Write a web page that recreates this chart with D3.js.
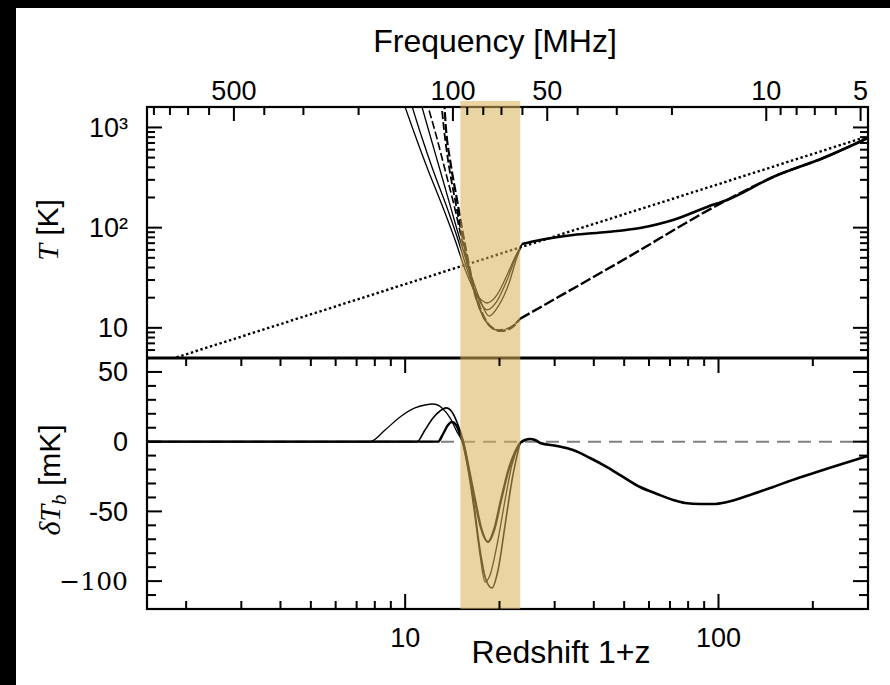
<!DOCTYPE html>
<html><head><meta charset="utf-8">
<script src="https://cdn.jsdelivr.net/npm/d3@7"></script>
<style>html,body{margin:0;padding:0;background:#000;} svg{display:block}</style>
</head><body>
<svg id="c" width="890" height="685"></svg>
<script>
// ---------------- data ----------------
const bandZ = [15.0, 23.3];                 // shaded redshift band (1+z)
const tcmbZ = [1.8, 10, 100, 300];          // CMB temperature (dotted)
const tcmbT = [4.9, 27.3, 272, 817];

// spin temperature, three models (solid)
const ts1Z = [9.80, 10.75, 11.83, 13.11, 14.43, 15.64, 16.96, 18.25, 19.64, 21.15, 22.43, 23.60];
const ts1T = [1900, 840, 376, 168, 75.3, 36.1, 21.3, 17.7, 21.3, 33.7, 50.9, 68.6];
const ts2Z = [10.37, 11.24, 12.27, 13.51, 14.75, 15.87, 17.09, 18.25, 19.64, 21.15, 22.43, 23.60];
const ts2T = [1880, 840, 376, 168, 75.3, 36.1, 19.8, 15.1, 18.5, 30.0, 48.6, 68.6];
const ts3Z = [11.15, 12.00, 12.92, 13.91, 14.97, 16.11, 17.34, 18.52, 19.93, 21.46, 22.59, 23.60];
const ts3T = [1880, 840, 376, 168, 75.3, 36.1, 19.0, 13.1, 16.9, 28.0, 47.5, 68.6];
const tsHighZ = [23.60, 26.95, 34.34, 44.09, 56.19, 71.61, 91.95, 106.5, 149.3, 215.7, 300];
const tsHighT = [68.6, 75.3, 84.4, 90.5, 99.2, 119, 161, 189, 320, 495, 785];

// gas kinetic temperature, three models (dashed)
const tk1Z = [11.66, 12.55, 13.41, 14.32, 15.30, 16.35, 17.34, 18.39, 19.79, 21.46, 23.26];
const tk1T = [1880, 840, 376, 168, 67.1, 26.8, 15.1, 10.9, 9.52, 9.96, 12.3];
const tk2Z = [13.02, 13.31, 13.70, 14.43, 15.41, 16.47, 17.47, 18.66, 20.08, 21.62, 23.26];
const tk2T = [1880, 943, 473, 189, 67.1, 25.6, 14.4, 10.4, 9.30, 9.96, 12.3];
const tk3Z = [13.31, 13.51, 13.91, 14.64, 15.53, 16.59, 17.60, 18.80, 20.23, 21.78, 23.26];
const tk3T = [1880, 943, 473, 189, 67.1, 25.0, 14.1, 10.2, 9.30, 9.96, 12.3];
const tkHighZ = [23.26, 49.6, 106.5, 149.3, 215.7, 300];
const tkHighT = [12.3, 47.5, 189, 320, 495, 785];

// brightness temperature, three models
const dz1 = [1.5, 7.72, 8.63, 9.63, 10.75, 11.57, 12.27, 13.11, 13.91, 14.64, 15.19, 15.87, 16.59, 17.34, 17.99, 18.66, 19.64, 20.84, 21.93, 23.26];
const dt1 = [0, 0, 8.4, 17.7, 24.2, 26.3, 27.0, 24.2, 17.0, 7.0, 0, -20.3, -49.0, -81.3, -100.6, -95.6, -74.1, -41.8, -16.4, -0.9];
const dz2 = [1.5, 10.91, 11.57, 12.27, 12.92, 13.51, 14.11, 14.75, 15.30, 15.87, 16.59, 17.34, 18.12, 18.93, 19.79, 20.84, 21.93, 23.26];
const dt2 = [0, 0, 8.4, 17.0, 22.0, 24.2, 21.3, 12.0, 1.2, -16.4, -45.4, -77.7, -99.2, -104.9, -92.0, -59.8, -27.5, -0.9];
const dz3 = [1.5, 12.73, 13.21, 13.70, 14.11, 14.53, 14.97, 15.41, 15.99, 16.71, 17.47, 18.39, 19.22, 20.23, 21.46, 22.43, 23.26];
const dt3 = [0, 0, 5.5, 12.0, 14.1, 12.0, 5.5, -3.1, -20.3, -41.8, -61.9, -72.0, -63.3, -41.8, -18.9, -7.4, -0.9];
const dzHigh = [23.26, 24.14, 25.03, 25.97, 26.95, 30.54, 34.34, 38.91, 44.09, 49.60, 56.19, 63.67, 71.61, 78.23, 87.35, 96.09, 106.5, 126.1, 149.3, 179.6, 215.7, 253.6, 300];
const dtHigh = [-0.9, 1.2, 1.9, 1.2, -0.9, -3.1, -6.0, -11.7, -18.2, -25.3, -32.5, -37.5, -41.8, -44.0, -44.7, -44.7, -43.3, -38.2, -32.5, -26.0, -20.3, -15.3, -10.2];

// ticks
const zMajor = [10, 100];
const zMajorLabels = ["10", "100"];
const zMinor = [2,3,4,5,6,7,8,9,20,30,40,50,60,70,80,90,200];
const fMajor = [500, 100, 50, 10, 5];
const fMajorLabels = ["500", "100", "50", "10", "5"];
const fMinor = [900,800,700,600,400,300,200,90,80,70,60,40,30,20,9,8,7,6];
const tMajor = [10, 100, 1000];
const tMajorLabels = ["10", "10²", "10³"];
const tMinor = [6,7,8,9,20,30,40,50,60,70,80,90,200,300,400,500,600,700,800,900];
const dMajor = [50, 0, -50, -100];
const dMajorLabels = ["50", "0", "-50", "−100"];
const dMinor = [-110,-90,-80,-70,-60,-40,-30,-20,-10,10,20,30,40];
const nu21 = 1420.4;

// ---------------- layout ----------------
const W = 890, H = 685;
const L = 147, R = 868, T0 = 107, MID = 358, B = 609;
const svg = d3.select("#c");
svg.append("rect").attr("width", W).attr("height", H).attr("fill", "#000");
svg.append("rect").attr("x", 16).attr("y", 8).attr("width", W - 16).attr("height", H - 8).attr("fill", "#fff");

const x = d3.scaleLog().domain([1.5, 300]).range([L, R]);
const xF = d3.scaleLog().domain([nu21 / 1.5, nu21 / 300]).range([L, R]);
const yT = d3.scaleLog().domain([5, 1600]).range([MID, T0]);
const yD = d3.scaleLinear().domain([-120, 60]).range([B, MID]);

const defs = svg.append("defs");
defs.append("clipPath").attr("id", "cpT").append("rect").attr("x", L).attr("y", T0).attr("width", R - L).attr("height", MID - T0);
defs.append("clipPath").attr("id", "cpB").append("rect").attr("x", L).attr("y", MID).attr("width", R - L).attr("height", B - MID);

const SANS = "'Liberation Sans', Arial, Helvetica, sans-serif";
const SERIF = "'Liberation Serif', 'Times New Roman', serif";

// ---------------- curves ----------------
const lineT = d3.line().x(d => x(d[0])).y(d => yT(d[1])).curve(d3.curveMonotoneX);
const lineD = d3.line().x(d => x(d[0])).y(d => yD(d[1])).curve(d3.curveMonotoneX);
const zip = (a, b) => a.map((v, i) => [v, b[i]]);

const gT = svg.append("g").attr("clip-path", "url(#cpT)");
function drawT(zs, ts, w, dash) {
  gT.append("path").attr("d", lineT(zip(zs, ts))).attr("fill", "none").attr("stroke", "#000")
    .attr("stroke-width", w).attr("stroke-dasharray", dash || null).attr("stroke-linejoin", "round");
}
drawT(tcmbZ, tcmbT, 2.4, "2.4,2.6");
drawT(ts1Z, ts1T, 1.3);
drawT(ts2Z, ts2T, 1.3);
drawT(ts3Z, ts3T, 1.3);
drawT(tsHighZ, tsHighT, 2.6);
drawT(tk1Z, tk1T, 1.6, "8,3");
drawT(tk2Z, tk2T, 1.8, "8,3");
drawT(tk3Z, tk3T, 2.2, "9,3");
drawT(tkHighZ, tkHighT, 2.4, "11,3");

const gB = svg.append("g").attr("clip-path", "url(#cpB)");
gB.append("line").attr("x1", L).attr("x2", R).attr("y1", yD(0)).attr("y2", yD(0))
  .attr("stroke", "#808080").attr("stroke-width", 2).attr("stroke-dasharray", "13,8");
function drawD(zs, ds, w) {
  gB.append("path").attr("d", lineD(zip(zs, ds))).attr("fill", "none").attr("stroke", "#000")
    .attr("stroke-width", w).attr("stroke-linejoin", "round");
}
drawD(dz1, dt1, 1.3);
drawD(dz2, dt2, 1.6);
drawD(dz3, dt3, 2.4);
drawD(dzHigh, dtHigh, 2.6);

// frames
svg.append("rect").attr("x", L).attr("y", T0).attr("width", R - L).attr("height", B - T0)
  .attr("fill", "none").attr("stroke", "#000").attr("stroke-width", 2.2);
svg.append("line").attr("x1", L).attr("x2", R).attr("y1", MID).attr("y2", MID)
  .attr("stroke", "#000").attr("stroke-width", 3);

// tick labels
const gLab = svg.append("g").attr("font-family", SANS).attr("font-size", 27).attr("fill", "#000");
gLab.append("g").selectAll("text").data(fMajor).join("text")
  .attr("x", d => xF(d)).attr("y", T0 - 7).attr("text-anchor", "middle").text((d, i) => fMajorLabels[i]);
gLab.append("g").selectAll("text").data(zMajor).join("text")
  .attr("x", d => x(d)).attr("y", B + 38).attr("text-anchor", "middle").text((d, i) => zMajorLabels[i]);
gLab.append("g").selectAll("text").data(tMajor).join("text")
  .attr("x", L - 19).attr("y", d => yT(d)).attr("dy", "0.35em").attr("text-anchor", "end").text((d, i) => tMajorLabels[i]);
gLab.append("g").selectAll("text").data(dMajor).join("text")
  .attr("x", L - 19).attr("y", d => yD(d)).attr("dy", "0.35em").attr("text-anchor", "end")
  .attr("font-family", d => d === -100 ? "'DejaVu Serif', serif" : null)
  .attr("font-size", d => d === -100 ? 25 : null)
  .text((d, i) => dMajorLabels[i]);

// titles
svg.append("text").attr("x", 495).attr("y", 52).attr("text-anchor", "middle")
  .attr("font-family", SANS).attr("font-size", 32).attr("fill", "#000").text("Frequency [MHz]");
svg.append("text").attr("x", 561).attr("y", 663).attr("text-anchor", "middle")
  .attr("font-family", SANS).attr("font-size", 32).attr("fill", "#000").text("Redshift 1+z");

const yl1 = svg.append("text").attr("transform", "translate(58,230) rotate(-90)").attr("text-anchor", "middle")
  .attr("font-size", 30).attr("fill", "#000");
yl1.append("tspan").attr("font-family", SERIF).attr("font-style", "italic").text("T");
yl1.append("tspan").attr("font-family", SANS).text(" [K]");

const yl2 = svg.append("text").attr("transform", "translate(60,480) rotate(-90)").attr("text-anchor", "middle")
  .attr("font-size", 30).attr("fill", "#000");
yl2.append("tspan").attr("font-family", SERIF).attr("font-style", "italic").text("δT");
yl2.append("tspan").attr("font-family", SERIF).attr("font-style", "italic").attr("font-size", 21).attr("dy", 6).text("b");
yl2.append("tspan").attr("font-family", SANS).attr("dy", -6).text(" [mK]");

// shaded band
svg.append("rect").attr("x", x(bandZ[0])).attr("width", x(bandZ[1]) - x(bandZ[0]))
  .attr("y", 101).attr("height", B - 101).attr("fill", "#d8b256").attr("opacity", 0.55);

// ---------------- ticks (filled rects, drawn last) ----------------
const gTk = svg.append("g").attr("fill", "#000");
function hTicks(vals, scale, y0, len) {      // marks along a horizontal edge; len>0 = downward
  gTk.append("g").selectAll("rect").data(vals).join("rect")
    .attr("x", d => scale(d) - 1).attr("width", 2)
    .attr("y", len > 0 ? y0 : y0 + len).attr("height", Math.abs(len));
}
function vTicks(vals, scale, x0, len) {      // marks along a vertical edge; len>0 = rightward
  gTk.append("g").selectAll("rect").data(vals).join("rect")
    .attr("y", d => scale(d) - 1).attr("height", 2)
    .attr("x", len > 0 ? x0 : x0 + len).attr("width", Math.abs(len));
}
hTicks(fMajor, xF, T0, 14); hTicks(fMinor, xF, T0, 8);
hTicks(zMajor, x, MID, 15); hTicks(zMinor, x, MID, 8);
hTicks(zMajor, x, B, -15); hTicks(zMinor, x, B, -8);
vTicks(tMajor, yT, L, 15); vTicks(tMinor, yT, L, 8);
vTicks(tMajor, yT, R, -15); vTicks(tMinor, yT, R, -8);
vTicks(dMajor, yD, L, 15); vTicks(dMinor, yD, L, 9);
vTicks(dMajor, yD, R, -15); vTicks(dMinor, yD, R, -9);
</script>
</body></html>
